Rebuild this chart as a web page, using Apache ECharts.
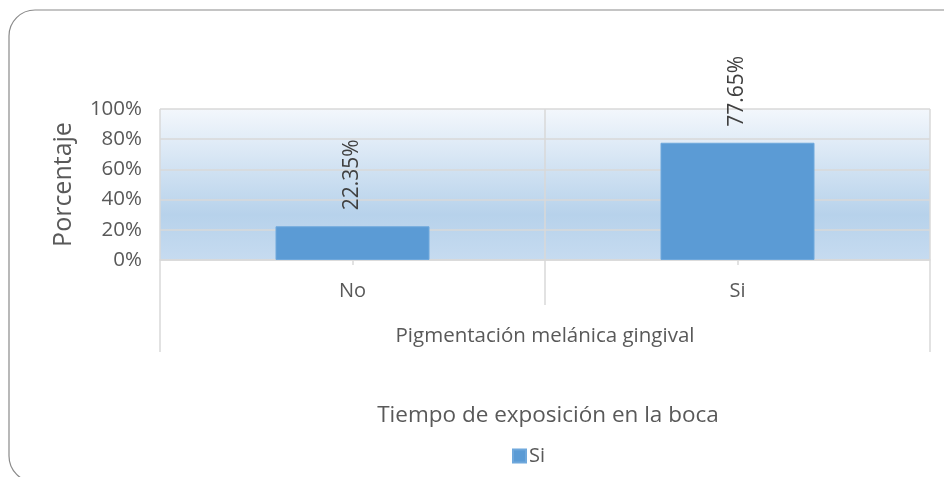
<!DOCTYPE html>
<html>
<head>
<meta charset="utf-8">
<script src="https://cdn.jsdelivr.net/npm/echarts@6/dist/echarts.min.js"></script>
<style>
  html, body { margin: 0; padding: 0; background: #fff; }
  #chart { width: 944px; height: 477px; }
</style>
</head>
<body>
<div id="chart"></div>
<script>
// datos del gráfico
var categories = ['No', 'Si'];
var groupLabel = ['Pigmentación melánica gingival'];
var seriesName = 'Si';
var values = [0.2235, 0.7765];
var yTicks = [0, 0.2, 0.4, 0.6, 0.8, 1];

var textColor = '#595959';
var font = 'Open Sans';

var chart = echarts.init(document.getElementById('chart'));

chart.setOption({
  backgroundColor: '#fff',
  textStyle: { fontFamily: font },
  title: {
    text: 'Tiempo de exposición en la boca',
    left: 543,
    top: 399,
    textAlign: 'center',
    textStyle: { fontFamily: font, fontSize: 22.5, fontWeight: 'normal', color: textColor }
  },
  legend: {
    data: [seriesName],
    left: 507,
    top: 441,
    itemWidth: 13,
    itemHeight: 13,
    itemGap: 4,
    icon: 'rect',
    textStyle: { fontFamily: font, fontSize: 20, color: textColor, padding: [0, 0, 0, -2] }
  },
  // marco redondeado
  graphic: [{
    type: 'rect',
    shape: { x: 9, y: 10, width: 960, height: 472, r: 26 },
    style: { fill: 'none', stroke: '#8a8a8a', lineWidth: 1.2 },
    silent: true,
    z: -1
  }],
  grid: {
    left: 160,
    right: 14,
    top: 109,
    height: 151,
    show: true,
    borderWidth: 0,
    backgroundColor: new echarts.graphic.LinearGradient(0, 0, 0, 1, [
      { offset: 0, color: '#f3f7fc' },
      { offset: 0.7, color: '#b7d2eb' },
      { offset: 1, color: '#c6dbf0' }
    ])
  },
  xAxis: [
    {
      type: 'category',
      data: categories,
      position: 'bottom',
      axisLine: { show: true, lineStyle: { color: '#d9d9d9', width: 1.5 } },
      axisTick: { show: true, alignWithLabel: false, length: 45, lineStyle: { color: '#d9d9d9', width: 1.5 } },
      axisLabel: { margin: 21, fontFamily: font, fontSize: 20, color: textColor },
      splitLine: { show: true, lineStyle: { color: '#d9d9d9', width: 1.5 } }
    },
    {
      type: 'category',
      data: categories,
      position: 'bottom',
      axisLine: { show: false },
      axisTick: { show: true, alignWithLabel: true, length: 5, lineStyle: { color: '#d9d9d9', width: 1.5 } },
      axisLabel: { show: false }
    },
    {
      type: 'category',
      data: groupLabel,
      position: 'bottom',
      axisLine: { show: false },
      axisTick: { show: true, alignWithLabel: false, length: 92, lineStyle: { color: '#d9d9d9', width: 1.5 } },
      axisLabel: { margin: 66, fontFamily: font, fontSize: 20.5, color: textColor }
    }
  ],
  yAxis: {
    type: 'value',
    min: yTicks[0],
    max: yTicks[yTicks.length - 1],
    interval: 0.2,
    name: 'Porcentaje',
    nameLocation: 'middle',
    nameGap: 84,
    nameTextStyle: { fontFamily: font, fontSize: 25, color: textColor },
    axisLine: { show: false },
    axisTick: { show: false },
    axisLabel: {
      margin: 18,
      fontFamily: font,
      fontSize: 20.5,
      color: textColor,
      formatter: function (v) { return Math.round(v * 100) + '%'; }
    },
    splitLine: { show: true, lineStyle: { color: '#d9d9d9', width: 1.5 } }
  },
  series: [{
    name: seriesName,
    type: 'bar',
    xAxisIndex: 0,
    data: values,
    barWidth: '40%',
    itemStyle: { color: '#5b9bd5', borderColor: '#6fa8dc', borderWidth: 1 },
    label: {
      show: true,
      position: 'top',
      rotate: 90,
      align: 'left',
      verticalAlign: 'middle',
      distance: 16,
      fontFamily: font,
      fontSize: 21,
      color: '#404040',
      formatter: function (p) { return (p.value * 100).toFixed(2) + '%'; }
    }
  }]
});
</script>
</body>
</html>
